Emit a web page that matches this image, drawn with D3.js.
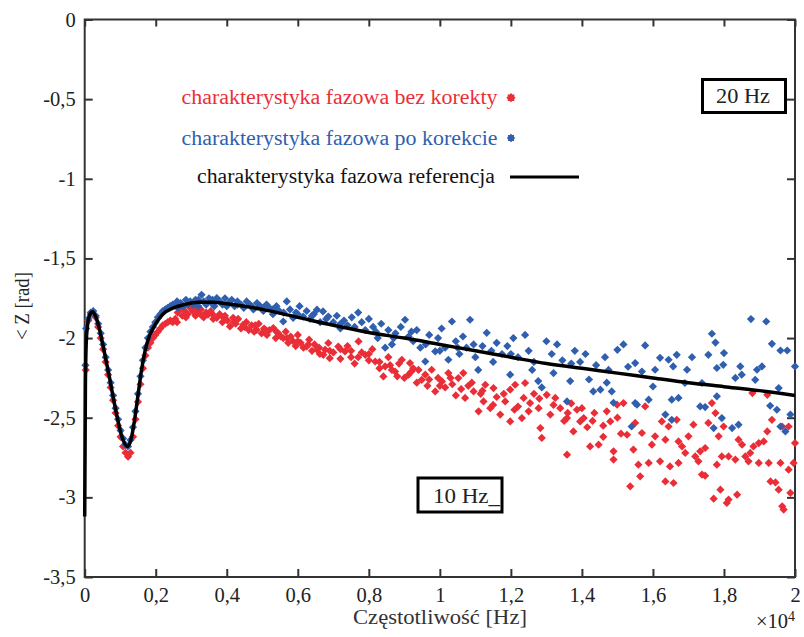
<!DOCTYPE html>
<html><head><meta charset="utf-8">
<script src="https://cdn.jsdelivr.net/npm/d3@7"></script>
<style>body{margin:0;background:#fff}svg{display:block}text{font-family:"Liberation Serif","DejaVu Serif",serif}</style>
</head><body><svg id="c" width="804" height="637"></svg>
<script>
// ---- data (x in ×10^4 Hz, y in rad) ----
const xTicks = [0,0.2,0.4,0.6,0.8,1,1.2,1.4,1.6,1.8,2];
const yTicks = [0,-0.5,-1,-1.5,-2,-2.5,-3,-3.5];
const legendLabels = ["charakterystyka fazowa bez korekty","charakterystyka fazowa po korekcie","charakterystyka fazowa referencja"];
const refX = [0,0.002,0.004,0.008,0.015,0.022,0.03,0.04,0.05,0.06,0.07,0.08,0.09,0.1,0.11,0.12,0.13,0.14,0.15,0.16,0.17,0.18,0.19,0.2,0.22,0.25,0.28,0.32,0.36,0.4,0.5,0.6,0.7,0.8,0.9,1.0,1.1,1.2,1.3,1.4,1.5,1.6,1.7,1.8,1.9,2.0];
const refY = [-3.12,-2.3,-2.05,-1.92,-1.85,-1.835,-1.86,-1.93,-2.03,-2.14,-2.25,-2.37,-2.48,-2.58,-2.65,-2.68,-2.64,-2.52,-2.36,-2.2,-2.08,-2.0,-1.95,-1.91,-1.85,-1.81,-1.79,-1.775,-1.775,-1.785,-1.82,-1.87,-1.92,-1.965,-2.0,-2.04,-2.08,-2.12,-2.16,-2.19,-2.22,-2.25,-2.28,-2.305,-2.33,-2.36];
const redPoints = [
[0.003,-2.2],[0.01,-1.89],[0.017,-1.85],[0.024,-1.85],[0.031,-1.87],[0.038,-1.93],[0.045,-2.0],[0.052,-2.07],[0.059,-2.15],[0.066,-2.23],[0.073,-2.31],[0.08,-2.39],[0.087,-2.47],[0.094,-2.55],[0.101,-2.62],[0.108,-2.68],[0.115,-2.72],[0.122,-2.745],[0.129,-2.72],[0.136,-2.62],[0.143,-2.51],[0.15,-2.4],[0.157,-2.29],[0.164,-2.19],[0.171,-2.11],[0.178,-2.06],[0.185,-2.03],[0.192,-2.0],[0.199,-1.98],[0.206,-1.96],[0.213,-1.94],[0.22,-1.92],[0.227,-1.91],[0.234,-1.9],[0.241,-1.89],[0.248,-1.9],
[0.255,-1.88],[0.262,-1.84],[0.268,-1.82],[0.275,-1.86],[0.282,-1.83],[0.29,-1.85],[0.297,-1.81],[0.305,-1.833],[0.312,-1.86],[0.32,-1.84],[0.327,-1.82],[0.335,-1.87],[0.342,-1.84],[0.347,-1.853],[0.355,-1.83],[0.362,-1.88],[0.372,-1.873],[0.38,-1.85],[0.388,-1.9],[0.395,-1.86],[0.402,-1.89],[0.409,-1.927],[0.418,-1.873],[0.425,-1.91],[0.432,-1.88],[0.44,-1.94],[0.446,-1.917],[0.455,-1.9],[0.462,-1.95],[0.47,-1.92],[0.477,-1.96],[0.484,-1.948],[0.49,-1.91],[0.498,-1.97],[0.505,-1.94],[0.513,-1.98],[0.52,-1.95],[0.531,-1.937],[0.538,-2.0],[0.545,-1.97],[0.552,-1.99],[0.559,-2.0],[0.566,-1.96],[0.573,-2.03],[0.58,-1.99],[0.587,-2.02],[0.594,-2.05],[0.6,-1.98],[0.608,-2.03],[0.616,-2.06],[0.625,-2.053],[0.632,-2.01],[0.64,-2.08],[0.647,-2.04],[0.654,-2.073],[0.662,-2.1],[0.672,-2.105],[0.677,-2.073],[0.686,-2.031],[0.69,-2.126],
[0.26,-1.9],[0.285,-1.87],[0.31,-1.82],[0.33,-1.86],[0.36,-1.85],[0.39,-1.87],[0.42,-1.9],[0.45,-1.93],[0.48,-1.92],[0.51,-1.95],[0.54,-1.96],[0.57,-2.0],[0.6,-2.02],[0.63,-2.04],[0.66,-2.06],[0.69,-2.08],
[0.7,-2.09],[0.714,-2.053],[0.72,-2.13],[0.733,-2.084],[0.74,-2.05],[0.75,-2.12],[0.76,-2.16],[0.771,-2.021],[0.78,-2.09],[0.79,-2.105],[0.8,-2.14],[0.81,-2.07],[0.818,-2.147],[0.83,-2.19],[0.841,-2.241],[0.846,-2.178],[0.855,-2.12],[0.865,-2.2],[0.874,-2.21],[0.885,-2.16],[0.893,-2.136],[0.9,-2.25],[0.912,-2.23],[0.916,-2.157],[0.925,-2.19],[0.935,-2.28],[0.949,-2.262],[0.959,-2.23],[0.965,-2.3],[0.977,-2.199],[0.987,-2.335],[0.995,-2.25],[1.006,-2.272],[1.015,-2.31],[1.024,-2.22],[1.035,-2.29],[1.045,-2.36],[1.052,-2.251],[1.066,-2.22],[1.071,-2.376],[1.08,-2.3],[1.095,-2.335],[1.109,-2.46],[1.115,-2.35],
[0.72,-2.07],[0.75,-2.08],[0.77,-2.12],[0.8,-2.1],[0.83,-2.15],[0.86,-2.17],[0.88,-2.24],[0.92,-2.21],[0.94,-2.2],[0.97,-2.26],[1.0,-2.3],[1.03,-2.25],[1.06,-2.32],[1.09,-2.28],
[1.123,-2.398],[1.128,-2.293],[1.142,-2.44],[1.151,-2.314],[1.16,-2.37],[1.17,-2.48],[1.184,-2.398],[1.198,-2.324],[1.198,-2.523],[1.212,-2.293],[1.22,-2.43],[1.231,-2.502],[1.236,-2.376],[1.24,-2.282],[1.254,-2.408],[1.265,-2.35],[1.278,-2.44],[1.283,-2.565],[1.287,-2.627],[1.301,-2.356],[1.311,-2.48],[1.325,-2.376],[1.339,-2.44],[1.35,-2.52],[1.358,-2.502],[1.358,-2.732],[1.37,-2.41],[1.376,-2.586],[1.386,-2.45],[1.395,-2.523],[1.405,-2.502],[1.415,-2.56],[1.423,-2.68],[1.435,-2.47],[1.447,-2.669],[1.46,-2.55],[1.47,-2.46],[1.48,-2.523],[1.489,-2.711],[1.489,-2.763],[1.499,-2.418],[1.51,-2.6],[1.517,-2.408],[1.527,-2.607],[1.536,-2.931],[1.545,-2.7],
[1.12,-2.33],[1.15,-2.42],[1.18,-2.35],[1.21,-2.45],[1.25,-2.46],[1.28,-2.38],[1.32,-2.42],[1.36,-2.47],[1.4,-2.44],[1.43,-2.52],[1.46,-2.62],[1.5,-2.5],
[1.55,-2.533],[1.569,-2.596],[1.597,-2.669],[1.606,-2.617],[1.625,-2.523],[1.644,-2.555],[1.635,-2.638],[1.62,-2.774],[1.559,-2.795],[1.588,-2.784],[1.564,-2.868],[1.635,-2.9],[1.658,-2.91],[1.648,-2.806],[1.672,-2.784],[1.667,-2.513],[1.672,-2.649],[1.682,-2.68],[1.691,-2.721],[1.7,-2.617],[1.714,-2.544],[1.719,-2.743],[1.733,-2.711],[1.747,-2.69],[1.728,-2.774],[1.738,-2.857],[1.747,-2.864],[1.756,-2.533],[1.766,-2.408],[1.776,-2.471],[1.785,-2.617],[1.78,-2.795],[1.79,-2.952],[1.771,-3.008],[1.813,-3.014],[1.808,-3.035],[1.837,-2.983],[1.794,-2.743],[1.799,-2.555],[1.813,-2.743],[1.832,-2.763],[1.841,-2.638],[1.851,-2.669],[1.86,-2.743],[1.869,-2.774],[1.874,-2.721],[1.883,-2.68],[1.898,-2.784],[1.898,-2.659],[1.912,-2.649],[1.922,-2.586],[1.935,-2.513],[1.926,-2.784],[1.931,-2.9],[1.945,-2.906],[1.954,-2.952],[1.959,-2.784],[1.964,-2.555],[1.982,-2.555],[1.982,-2.826],[1.987,-2.972],[1.964,-3.056],[1.968,-3.077],[2.0,-2.659],[1.996,-2.784],[1.922,-2.356],[1.88,-2.345],[1.578,-2.429]
];
const bluePoints = [
[0.002,-2.17],[0.004,-1.94],[0.01,-1.88],[0.017,-1.84],[0.024,-1.83],[0.031,-1.86],[0.038,-1.91],[0.045,-1.97],[0.052,-2.04],[0.059,-2.12],[0.066,-2.2],[0.073,-2.28],[0.08,-2.36],[0.087,-2.44],[0.094,-2.51],[0.101,-2.58],[0.108,-2.63],[0.115,-2.67],[0.122,-2.68],[0.129,-2.64],[0.136,-2.56],[0.143,-2.46],[0.15,-2.35],[0.157,-2.24],[0.164,-2.14],[0.171,-2.06],[0.178,-2.0],[0.185,-1.96],[0.192,-1.93],[0.199,-1.9],[0.206,-1.87],[0.213,-1.85],[0.22,-1.83],[0.227,-1.82],[0.234,-1.81],[0.241,-1.8],[0.248,-1.79],
[0.255,-1.79],[0.262,-1.81],[0.27,-1.78],[0.278,-1.8],[0.285,-1.76],[0.297,-1.77],[0.305,-1.79],[0.312,-1.76],[0.32,-1.8],[0.329,-1.728],[0.335,-1.77],[0.342,-1.79],[0.35,-1.75],[0.358,-1.78],[0.365,-1.8],[0.372,-1.749],[0.38,-1.77],[0.388,-1.79],[0.395,-1.75],[0.405,-1.78],[0.414,-1.76],[0.422,-1.8],[0.43,-1.77],[0.44,-1.79],[0.448,-1.81],[0.456,-1.77],[0.465,-1.79],[0.475,-1.82],[0.485,-1.78],[0.494,-1.8],[0.503,-1.83],[0.512,-1.79],[0.52,-1.81],[0.53,-1.85],[0.54,-1.8],[0.548,-1.83],[0.559,-1.896],[0.569,-1.77],[0.578,-1.82],[0.587,-1.873],[0.595,-1.84],[0.605,-1.8],[0.615,-1.865],[0.625,-1.83],[0.635,-1.88],[0.645,-1.85],[0.654,-1.822],[0.663,-1.9],[0.671,-1.833],[0.686,-1.865],
[0.26,-1.77],[0.29,-1.79],[0.32,-1.76],[0.36,-1.76],[0.4,-1.8],[0.43,-1.79],[0.47,-1.8],[0.5,-1.81],[0.53,-1.82],[0.56,-1.84],[0.6,-1.85],[0.64,-1.86],[0.68,-1.88],
[0.7,-1.9],[0.71,-1.86],[0.72,-1.94],[0.73,-1.89],[0.74,-1.92],[0.752,-1.87],[0.77,-1.84],[0.78,-1.9],[0.79,-1.95],[0.8,-1.88],[0.812,-1.93],[0.825,-2.0],[0.835,-1.91],[0.846,-2.06],[0.855,-1.95],[0.865,-2.04],[0.875,-1.97],[0.89,-1.93],[0.902,-1.885],[0.912,-1.99],[0.925,-2.02],[0.935,-1.95],[0.945,-2.06],[0.959,-2.147],[0.97,-1.98],[0.987,-2.084],[0.995,-2.0],[1.005,-1.94],[1.015,-2.06],[1.024,-2.136],[1.034,-1.896],[1.045,-2.02],[1.055,-2.1],[1.065,-1.99],[1.075,-2.06],[1.085,-1.885],[1.095,-2.04],[1.108,-2.2],
[0.72,-1.91],[0.76,-1.93],[0.82,-1.96],[0.87,-2.0],[0.92,-1.96],[0.96,-2.04],[1.0,-2.08],[1.05,-2.06],[1.1,-2.12],
[1.12,-2.05],[1.132,-1.967],[1.145,-2.08],[1.16,-2.03],[1.175,-2.1],[1.19,-2.05],[1.198,-2.23],[1.207,-2.0],[1.22,-2.12],[1.24,-1.98],[1.25,-2.08],[1.265,-2.15],[1.277,-2.27],[1.287,-2.31],[1.3,-2.02],[1.315,-2.1],[1.33,-2.04],[1.345,-2.14],[1.358,-2.398],[1.367,-2.27],[1.38,-2.08],[1.395,-2.15],[1.41,-2.1],[1.432,-2.335],[1.44,-2.17],[1.452,-2.324],[1.465,-2.12],[1.475,-2.2],[1.484,-2.335],[1.489,-2.406],[1.5,-2.074],[1.517,-2.04],[1.53,-2.18],[1.54,-2.555],[1.555,-2.418],
[1.15,-2.15],[1.2,-2.1],[1.26,-2.2],[1.32,-2.22],[1.37,-2.16],[1.42,-2.26],[1.47,-2.28],
[1.876,-1.881],[1.919,-1.896],[1.766,-1.973],[1.776,-2.028],[1.578,-2.046],[1.667,-2.105],[1.71,-2.12],[1.756,-2.105],[1.8,-2.094],[1.935,-2.036],[1.959,-2.078],[1.978,-2.078],[2.0,-2.178],[1.62,-2.124],[1.644,-2.136],[1.657,-2.178],[1.696,-2.199],[1.606,-2.199],[1.55,-2.157],[1.569,-2.21],[1.78,-2.188],[1.798,-2.168],[1.846,-2.178],[1.893,-2.199],[1.907,-2.178],[1.85,-2.23],[1.832,-2.25],[1.888,-2.262],[1.69,-2.282],[1.738,-2.282],[1.954,-2.314],[1.6,-2.304],[1.588,-2.387],[1.55,-2.408],[1.653,-2.387],[1.672,-2.376],[1.733,-2.429],[1.747,-2.433],[1.78,-2.366],[1.93,-2.425],[1.949,-2.45],[1.987,-2.48],[1.959,-2.555],[1.973,-2.586],[1.635,-2.48],[1.771,-2.565],[1.823,-2.565],[1.841,-2.544],[1.653,-2.513],[1.794,-2.502]
];

// ---- chart ----
const svg = d3.select("#c");
const L = 84.7, R = 795, T = 19.5, B = 577;
const x = d3.scaleLinear().domain([0,2]).range([L,R]);
const y = d3.scaleLinear().domain([-3.5,0]).range([B,T]);
const fmt = d => String(d).replace(".", ",");
const axisCol = "#333";
const FS = 20.5;

const gB = svg.append("g").attr("transform",`translate(0,${B})`)
  .call(d3.axisBottom(x).tickValues(xTicks).tickFormat(fmt).tickSizeInner(-8).tickSizeOuter(0).tickPadding(10));
const gT = svg.append("g").attr("transform",`translate(0,${T})`)
  .call(d3.axisTop(x).tickValues(xTicks).tickFormat("").tickSizeInner(-7).tickSizeOuter(0));
const gL = svg.append("g").attr("transform",`translate(${L},0)`)
  .call(d3.axisLeft(y).tickValues(yTicks).tickFormat(fmt).tickSizeInner(-8).tickSizeOuter(0).tickPadding(9));
const gR = svg.append("g").attr("transform",`translate(${R},0)`)
  .call(d3.axisRight(y).tickValues(yTicks).tickFormat("").tickSizeInner(-8).tickSizeOuter(0));
[gB,gT,gL,gR].forEach(g=>{
  g.select(".domain").remove();
  g.selectAll("line").attr("stroke",axisCol).attr("stroke-width",2);
  g.selectAll("text").attr("font-family","Liberation Serif").attr("font-size",FS).attr("fill","#222");
});
svg.append("rect").attr("x",L).attr("y",T).attr("width",R-L).attr("height",B-T)
  .attr("fill","none").attr("stroke",axisCol).attr("stroke-width",2);

const RED = "#ea2e38", BLUE = "#2f5fae";
const dia = r => `M0,${-r}L${r},0L0,${r}L${-r},0Z`;
const plot = svg.append("g");
plot.selectAll(".r").data(redPoints).join("path").attr("class","r")
  .attr("d",dia(4.1)).attr("fill",RED)
  .attr("transform",d=>`translate(${x(d[0])},${y(d[1])})`);
plot.selectAll(".b").data(bluePoints).join("path").attr("class","b")
  .attr("d",dia(4.1)).attr("fill",BLUE)
  .attr("transform",d=>`translate(${x(d[0])},${y(d[1])})`);
const line = d3.line().x(i=>x(refX[i])).y(i=>y(refY[i])).curve(d3.curveMonotoneX);
plot.append("path").attr("d",line(d3.range(refX.length)))
  .attr("fill","none").attr("stroke","#000").attr("stroke-width",3.5).attr("stroke-linejoin","round");

// ---- legend ----
const star = r => dia(r) + `M${-r*0.72},${-r*0.72}H${r*0.72}V${r*0.72}H${-r*0.72}Z`;
const leg = svg.append("g");
leg.append("text").attr("x",181.5).attr("y",104).attr("font-size",FS).attr("fill",RED)
  .attr("textLength",316).attr("lengthAdjust","spacingAndGlyphs").text(legendLabels[0]);
leg.append("path").attr("d",star(4.6)).attr("fill",RED).attr("transform","translate(511,97.7)");
leg.append("text").attr("x",181.5).attr("y",144.5).attr("font-size",FS).attr("fill",BLUE)
  .attr("textLength",316).attr("lengthAdjust","spacingAndGlyphs").text(legendLabels[1]);
leg.append("path").attr("d",star(4.2)).attr("fill",BLUE).attr("transform","translate(511,138)");
leg.append("text").attr("x",197).attr("y",182.5).attr("font-size",FS).attr("fill","#111")
  .attr("textLength",298).attr("lengthAdjust","spacingAndGlyphs").text(legendLabels[2]);
leg.append("line").attr("x1",510).attr("x2",579).attr("y1",177).attr("y2",177).attr("stroke","#000").attr("stroke-width",3);

// ---- annotation boxes ----
svg.append("rect").attr("x",702.5).attr("y",79.5).attr("width",83).attr("height",33)
  .attr("fill","#fff").attr("stroke","#000").attr("stroke-width",3);
svg.append("text").attr("x",716).attr("y",103).attr("font-size",FS).attr("fill","#222")
  .attr("textLength",54).attr("lengthAdjust","spacingAndGlyphs").text("20 Hz");
svg.append("rect").attr("x",418).attr("y",478).attr("width",84).attr("height",34)
  .attr("fill","#fff").attr("stroke","#000").attr("stroke-width",3);
svg.append("text").attr("x",433).attr("y",503).attr("font-size",FS).attr("fill","#222")
  .attr("textLength",67).attr("lengthAdjust","spacingAndGlyphs").text("10 Hz_");

// ---- axis titles ----
svg.append("text").attr("x",353).attr("y",624).attr("font-size",FS).attr("fill","#333")
  .attr("textLength",174).attr("lengthAdjust","spacingAndGlyphs").text("Częstotliwość [Hz]");
const ex = svg.append("text").attr("x",756).attr("y",628).attr("font-size",FS).attr("fill","#222");
ex.append("tspan").text("×10");
ex.append("tspan").attr("dy",-7).attr("font-size",14).text("4");
svg.append("text").attr("transform","translate(29,306) rotate(-90)").attr("text-anchor","middle")
  .attr("font-size",FS).attr("fill","#222").attr("textLength",68).attr("lengthAdjust","spacingAndGlyphs").text("< Z [rad]");
</script></body></html>
